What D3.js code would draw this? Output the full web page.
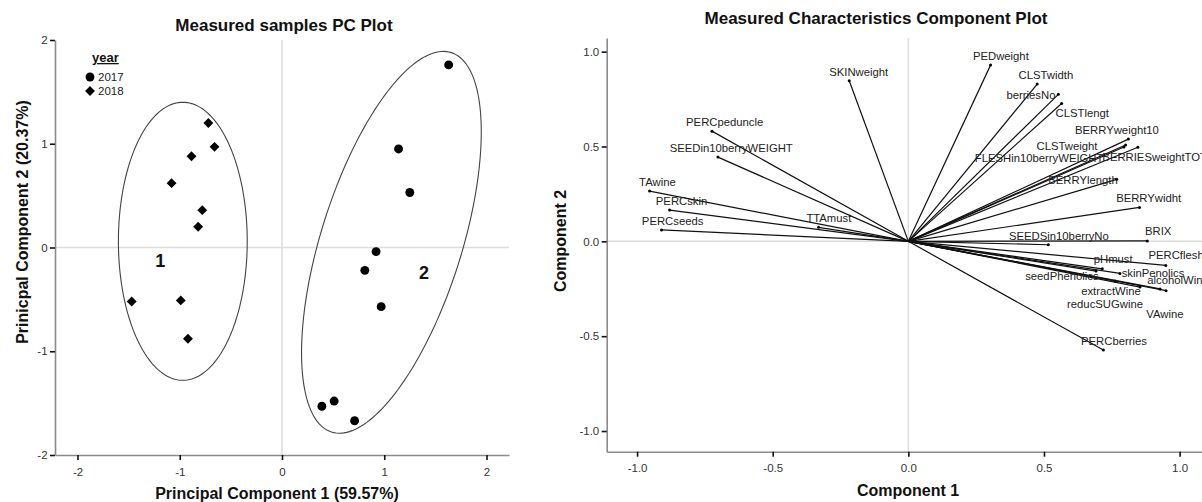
<!DOCTYPE html>
<html><head><meta charset="utf-8">
<script src="https://cdn.jsdelivr.net/npm/d3@7"></script>
<style>
body{margin:0;background:#fff;}
text{font-family:"Liberation Sans",Arial,sans-serif;}
</style></head>
<body><svg id="c" width="1202" height="502"></svg>
<script>
// ---------- DATA ----------
const years = ["2017", "2018"];
const pc1_2017 = [1.63, 1.14, 1.25, 0.92, 0.81, 0.97, 0.39, 0.51, 0.71];
const pc2_2017 = [1.76, 0.95, 0.53, -0.04, -0.22, -0.57, -1.53, -1.48, -1.67];
const pc1_2018 = [-0.72, -0.66, -0.885, -1.08, -0.78, -0.82, -1.47, -0.99, -0.92];
const pc2_2018 = [1.20, 0.97, 0.88, 0.62, 0.36, 0.20, -0.52, -0.51, -0.88];
const clusterNames = ["1", "2"];
const clusterLabelX = [-1.19, 1.39];
const clusterLabelY = [-0.13, -0.25];
const ellipseCx = [-0.97, 1.07];
const ellipseCy = [0.06, 0.05];
const ellipseA = [1.34, 1.92];
const ellipseB = [0.63, 0.687];
const ellipseAngle = [90, 72.2];
const pcTicks = [-2, -1, 0, 1, 2];

const varNames = ["SKINweight","PERCpeduncle","SEEDin10berryWEIGHT","TAwine","PERCskin","PERCseeds","TTAmust",
  "PEDweight","CLSTwidth","berriesNo","CLSTlengt","BERRYweight10","CLSTweight","FLESHin10berryWEIGHT","BERRIESweightTOTAL",
  "BERRYlength","BERRYwidht","BRIX","SEEDSin10berryNo","PERCflesh","pHmust","skinPenolics","alcoholWine",
  "seedPhenolics","extractWine","reducSUGwine","VAwine","PERCberries"];
const comp1 = [-0.218,-0.724,-0.702,-0.954,-0.88,-0.91,-0.331,
  0.303,0.475,0.553,0.565,0.811,0.801,0.795,0.846,
  0.768,0.852,0.881,0.516,0.949,0.715,0.78,0.95,
  0.692,0.762,0.854,0.928,0.719];
const comp2 = [0.847,0.581,0.444,0.265,0.165,0.06,0.074,
  0.929,0.829,0.775,0.727,0.539,0.508,0.497,0.496,
  0.327,0.179,0.002,-0.018,-0.127,-0.145,-0.169,-0.26,
  -0.157,-0.209,-0.241,-0.251,-0.573];
const labelC1 = [-0.183,-0.677,-0.653,-0.925,-0.836,-0.869,-0.293,
  0.341,0.507,0.452,0.641,0.769,0.585,0.482,0.932,
  0.644,0.886,0.921,0.555,0.987,0.755,0.902,0.994,
  0.566,0.747,0.725,0.946,0.758];
const labelC2 = [0.892,0.629,0.492,0.313,0.212,0.107,0.123,
  0.977,0.877,0.772,0.676,0.588,0.502,0.439,0.444,
  0.324,0.228,0.054,0.028,-0.072,-0.094,-0.167,-0.204,
  -0.183,-0.262,-0.331,-0.383,-0.525];
const compTicks = [-1.0, -0.5, 0.0, 0.5, 1.0];

// ---------- DRAW ----------
const svg = d3.select("#c");
const axisGray = "#8a8a8a", refGray = "#dcdcdc", tickCol = "#333";
const hy = f => (v => f(v).replace("\u2212", "-"));

function drawAxes(g, x, y, xTicks, yTicks, fmt) {
  const [x0, x1] = x.range(), [y0, y1] = y.range();
  g.append("line").attr("x1", x(0)).attr("x2", x(0)).attr("y1", y1).attr("y2", y0)
    .attr("stroke", refGray).attr("stroke-width", 1.5);
  g.append("line").attr("x1", x0).attr("x2", x1).attr("y1", y(0)).attr("y2", y(0))
    .attr("stroke", refGray).attr("stroke-width", 1.5);
  const ax = g.append("g").attr("transform", `translate(0,${y0})`)
    .call(d3.axisBottom(x).tickValues(xTicks).tickFormat(fmt).tickSize(5).tickSizeOuter(0));
  const ay = g.append("g").attr("transform", `translate(${x0},0)`)
    .call(d3.axisLeft(y).tickValues(yTicks).tickFormat(fmt).tickSize(5).tickSizeOuter(0));
  [ax, ay].forEach(a => {
    a.select(".domain").attr("stroke", axisGray).attr("stroke-width", 1.6);
    a.selectAll(".tick line").attr("stroke", "#111").attr("stroke-width", 1.6);
    a.selectAll(".tick text").attr("fill", tickCol).attr("font-size", 11.5)
      .style("font-family", '"Liberation Sans",Arial,sans-serif');
  });
  ax.selectAll(".tick text").attr("dy", "1.1em");
  ay.selectAll(".tick text").attr("dx", "0.05em");
}

// ----- Left plot -----
const xL = d3.scaleLinear().domain([-2.22, 2.22]).range([55, 509]);
const yL = d3.scaleLinear().domain([-2, 2]).range([455, 40]);
const gL = svg.append("g");
drawAxes(gL, xL, yL, pcTicks, pcTicks, hy(d3.format("d")));

const ts = d3.range(0, 361, 2).map(d => d * Math.PI / 180);
clusterNames.forEach((c, i) => {
  const th = ellipseAngle[i] * Math.PI / 180;
  const pts = ts.map(t => [
    ellipseCx[i] + ellipseA[i] * Math.cos(th) * Math.cos(t) - ellipseB[i] * Math.sin(th) * Math.sin(t),
    ellipseCy[i] + ellipseA[i] * Math.sin(th) * Math.cos(t) + ellipseB[i] * Math.cos(th) * Math.sin(t)]);
  gL.append("path").attr("d", d3.line().x(d => xL(d[0])).y(d => yL(d[1])).curve(d3.curveLinearClosed)(pts))
    .attr("fill", "none").attr("stroke", "#444").attr("stroke-width", 1.1);
  gL.append("text").attr("x", xL(clusterLabelX[i])).attr("y", yL(clusterLabelY[i]))
    .attr("text-anchor", "middle").attr("dominant-baseline", "central")
    .attr("font-size", 18).attr("font-weight", "bold").attr("fill", "#111").text(c);
});

const diamond = d3.symbol().type(d3.symbolDiamond2 || d3.symbolSquare).size(62);
const circle = d3.symbol().type(d3.symbolCircle).size(62);
pc1_2017.forEach((v, i) => {
  gL.append("path").attr("d", circle()).attr("transform", `translate(${xL(v)},${yL(pc2_2017[i])})`).attr("fill", "#000");
});
pc1_2018.forEach((v, i) => {
  gL.append("path").attr("d", diamond()).attr("transform", `translate(${xL(v)},${yL(pc2_2018[i])})`).attr("fill", "#000");
});

gL.append("text").attr("x", 92).attr("y", 62).attr("font-size", 13).attr("font-weight", "bold")
  .attr("text-decoration", "underline").attr("fill", "#111").text("year");
years.forEach((yr, i) => {
  const sym = i === 0 ? circle : diamond;
  gL.append("path").attr("d", sym()).attr("transform", `translate(90,${77 + i * 14})`).attr("fill", "#000");
  gL.append("text").attr("x", 98).attr("y", 81 + i * 14).attr("font-size", 11.5).attr("fill", "#222").text(yr);
});

gL.append("text").attr("x", 284).attr("y", 31).attr("text-anchor", "middle")
  .attr("font-size", 17).attr("font-weight", "bold").attr("fill", "#111").text("Measured samples PC Plot");
gL.append("text").attr("x", 277).attr("y", 499).attr("text-anchor", "middle")
  .attr("font-size", 16).attr("font-weight", "bold").attr("fill", "#111").text("Principal Component 1 (59.57%)");
gL.append("text").attr("transform", "translate(28,222) rotate(-90)").attr("text-anchor", "middle")
  .attr("font-size", 16).attr("font-weight", "bold").attr("fill", "#111").text("Prinicpal Component 2 (20.37%)");

// ----- Right plot -----
const xR = d3.scaleLinear().domain([-1.112, 1.112]).range([606.7, 1210]);
const yR = d3.scaleLinear().domain([-1.109, 1.072]).range([451.7, 38]);
const gR = svg.append("g");
drawAxes(gR, xR, yR, compTicks, compTicks, hy(d3.format(".1f")));

varNames.forEach((n, i) => {
  gR.append("line").attr("x1", xR(0)).attr("y1", yR(0)).attr("x2", xR(comp1[i])).attr("y2", yR(comp2[i]))
    .attr("stroke", "#111").attr("stroke-width", 1.2);
  gR.append("circle").attr("cx", xR(comp1[i])).attr("cy", yR(comp2[i])).attr("r", 1.5).attr("fill", "#000");
});
varNames.forEach((n, i) => {
  gR.append("text").attr("x", xR(labelC1[i])).attr("y", yR(labelC2[i]))
    .attr("text-anchor", "middle").attr("dominant-baseline", "central")
    .attr("font-size", 11.3).attr("fill", "#222").text(n);
});

gR.append("text").attr("x", 876).attr("y", 24).attr("text-anchor", "middle")
  .attr("font-size", 17).attr("font-weight", "bold").attr("fill", "#111").text("Measured Characteristics Component Plot");
gR.append("text").attr("x", 908).attr("y", 496).attr("text-anchor", "middle")
  .attr("font-size", 16).attr("font-weight", "bold").attr("fill", "#111").text("Component 1");
gR.append("text").attr("transform", "translate(566,241) rotate(-90)").attr("text-anchor", "middle")
  .attr("font-size", 16).attr("font-weight", "bold").attr("fill", "#111").text("Component 2");
</script></body></html>
